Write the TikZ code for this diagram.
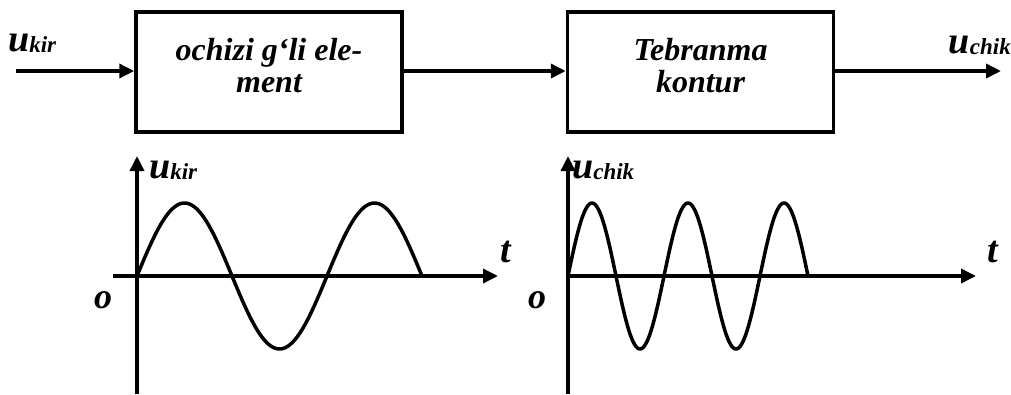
\documentclass[tikz,border=0pt]{standalone}
\usepackage{fontspec}
\setmainfont{Liberation Serif}
\usetikzlibrary{arrows.meta}
\tikzset{
  blockbox/.style={draw, line width=3.5pt, minimum width=266pt, minimum height=120pt, inner sep=0pt},
  boxtext/.style={inner sep=0pt, align=center, font=\bfseries\itshape\fontsize{32}{32}\selectfont},
  sigline/.style={line width=3.5pt, -{Triangle[length=15pt,width=14pt]}},
  axisline/.style={line width=3.5pt, -{Triangle[length=15pt,width=14pt]}},
  wave/.style={line width=3.5pt, line join=round},
  lbl/.style={inner sep=0pt, font=\bfseries\itshape},
}
\newcommand{\ulab}[1]{{\fontsize{38}{38}\selectfont u}\raisebox{-1pt}{\fontsize{23}{23}\selectfont #1}}
\begin{document}
\begin{tikzpicture}[x=1pt,y=-1pt]
\useasboundingbox (0,0) rectangle (1011,394);
% blocks
\node[blockbox] (b1) at (269,72) {};
\node[blockbox] (b2) at (700.5,72) {};
\node[boxtext] (b1t) at (269,66) {ochizi g‘li ele-\\ment};
\node[boxtext] (b2t) at (700.5,66) {Tebranma\\kontur};
\coordinate (in) at (16,71);
\coordinate (out) at (1001,71);
\draw[sigline] (in) -- (b1.west |- in);
\draw[sigline] (b1.east |- in) -- (b2.west |- in);
\draw[sigline] (b2.east |- out) -- (out);
\node[lbl, anchor=base west] (lin) at (8,51) {\ulab{kir}};
\node[lbl, anchor=base east] (lout) at (1011,53) {\ulab{chik}};
% graph 1
\coordinate (o1) at (137,276);
\coordinate (x1s) at (113,276);
\coordinate (x1e) at (498,276);
\coordinate (y1s) at (137,394);
\coordinate (y1e) at (137,156);
\draw[axisline] (x1s) -- (x1e);
\draw[axisline] (y1s) -- (y1e);
\draw[wave] plot[smooth, samples=120, domain=0:3] ({137+95*\x}, {276-73*sin(\x*180)});
\node[lbl, anchor=base west] (g1y) at (149,178) {\ulab{kir}};
\node[lbl, anchor=base, font=\bfseries\itshape\fontsize{38}{38}\selectfont] (g1t) at (506,262) {t};
\node[lbl, anchor=base, font=\bfseries\itshape\fontsize{36}{36}\selectfont] (g1o) at (103,308) {o};
% graph 2
\coordinate (o2) at (568,276);
\coordinate (x2e) at (976,276);
\coordinate (y2s) at (568,394);
\coordinate (y2e) at (568,156);
\draw[axisline] (o2) -- (x2e);
\draw[axisline] (y2s) -- (y2e);
\draw[wave] plot[smooth, samples=160, domain=0:5] ({568+48*\x}, {276-73*sin(\x*180)});
\node[lbl, anchor=base west] (g2y) at (572,178) {\ulab{chik}};
\node[lbl, anchor=base, font=\bfseries\itshape\fontsize{38}{38}\selectfont] (g2t) at (993,262) {t};
\node[lbl, anchor=base, font=\bfseries\itshape\fontsize{36}{36}\selectfont] (g2o) at (537,308) {o};
\end{tikzpicture}
\end{document}
